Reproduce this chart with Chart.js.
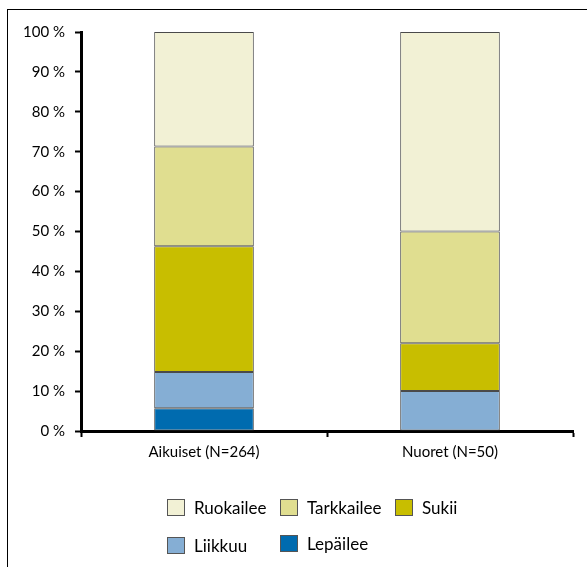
<!DOCTYPE html>
<html>
<head>
<meta charset="utf-8">
<script src="https://cdn.jsdelivr.net/npm/chart.js@4"></script>
<style>
  html, body { margin: 0; padding: 0; background: #fff; }
  #wrap { position: relative; width: 587px; height: 567px; overflow: hidden; font-family: Lato, "Open Sans", sans-serif; }
  #frame { position: absolute; left: 7px; top: 9px; right: -10px; bottom: -10px; border-top: 1px solid #000; border-left: 1px solid #000; }
  canvas { position: absolute; left: 0; top: 0; }
  .lg { position: absolute; display: flex; align-items: center; font-size: 17px; color: #000; white-space: nowrap; }
  .lg .box { width: 16px; height: 15px; border: 1px solid #555; margin-right: 9px; box-sizing: content-box; }
</style>
</head>
<body>
<div id="wrap">
  <div id="frame"></div>
  <canvas id="c" width="587" height="567"></canvas>
  <div id="legend"></div>
</div>
<script>
// Data
const categories = ['Aikuiset (N=264)', 'Nuoret (N=50)'];
const seriesNames = ['Lepäilee', 'Liikkuu', 'Sukii', 'Tarkkailee', 'Ruokailee'];
const lepailee   = [5.7, 0];
const liikkuu    = [9.1, 10];
const sukii      = [31.5, 12];
const tarkkailee = [25.0, 28];
const ruokailee  = [28.7, 50];
const yTicks = [0, 10, 20, 30, 40, 50, 60, 70, 80, 90, 100];

const colors = {
  'Lepäilee': '#006BAF',
  'Liikkuu': '#85AED4',
  'Sukii': '#C8BE00',
  'Tarkkailee': '#E0DE90',
  'Ruokailee': '#F2F1D5'
};
const values = [lepailee, liikkuu, sukii, tarkkailee, ruokailee];

const datasets = seriesNames.map((n, i) => ({
  label: n,
  data: values[i],
  backgroundColor: colors[n],
  borderColor: '#4a4a4a',
  borderWidth: 1,
  borderSkipped: false,
  barPercentage: 0.405,
  categoryPercentage: 1.0
}));

const FONT = { family: 'Lato, "Open Sans", sans-serif', size: 15 };

new Chart(document.getElementById('c'), {
  type: 'bar',
  data: { labels: categories, datasets },
  options: {
    responsive: false,
    animation: false,
    layout: { padding: { top: 32, right: 14, left: 0, bottom: 0 } },
    plugins: { legend: { display: false }, tooltip: { enabled: false } },
    scales: {
      x: {
        stacked: true,
        border: { display: true, color: '#000', width: 3 },
        grid: { display: true, drawOnChartArea: false, drawTicks: true, tickLength: 6, tickWidth: 2, tickColor: '#000', offset: true },
        ticks: { color: '#000', font: FONT, padding: 6 },
        afterFit: (s) => { s.height = 136; }
      },
      y: {
        stacked: true,
        min: 0, max: 100,
        afterBuildTicks: (s) => { s.ticks = yTicks.map(v => ({ value: v })); },
        border: { display: true, color: '#000', width: 3 },
        grid: { display: true, drawOnChartArea: false, drawTicks: true, tickLength: 6, tickWidth: 2, tickColor: '#000' },
        ticks: { color: '#000', font: FONT, padding: 10, callback: (v) => v + ' %' },
        afterFit: (s) => { s.width = 81; }
      }
    }
  }
});

// Legend (HTML, real text)
const legendOrder = ['Ruokailee', 'Tarkkailee', 'Sukii', 'Liikkuu', 'Lepäilee'];
const legendPos = [[167, 497], [280, 497], [395, 497], [167, 535], [280, 533]];
const lg = document.getElementById('legend');
legendOrder.forEach((n, i) => {
  const d = document.createElement('div');
  d.className = 'lg';
  d.style.left = legendPos[i][0] + 'px';
  d.style.top = legendPos[i][1] + 'px';
  d.innerHTML = '<div class="box" style="background:' + colors[n] + '"></div><span>' + n + '</span>';
  lg.appendChild(d);
});
</script>
</body>
</html>
